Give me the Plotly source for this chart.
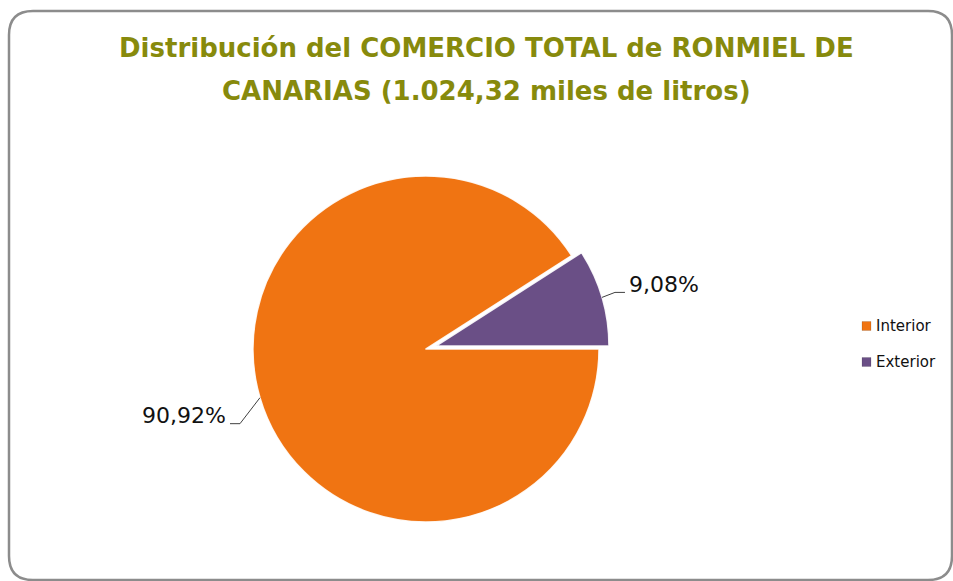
import math
import plotly.graph_objects as go

# Data
categories = ["Interior", "Exterior"]
shares = [90.92, 9.08]
share_labels = ["90,92%", "9,08%"]
title_lines = ["Distribución del COMERCIO TOTAL de RONMIEL DE",
               "CANARIAS (1.024,32 miles de litros)"]

colors = ["#F07412", "#6A4F86"]
pulls = [0.0, 0.06]

W, H = 953, 581


def px(x):
    return x / W


def py(y):
    return 1 - y / H


# Pie geometry in pixels
cx, cy, r = 426.0, 349.0, 173.0
max_pull = max(pulls)
rd = r * (1 + max_pull)

total = sum(shares)
# slices run clockwise starting from 3 o'clock
rotation = 90

fig = go.Figure()
fig.add_trace(go.Pie(
    labels=categories,
    values=shares,
    sort=False,
    direction="clockwise",
    rotation=rotation,
    pull=pulls,
    marker=dict(colors=colors, line=dict(color="rgba(255,255,255,0.9)", width=1.5)),
    textinfo="none",
    hoverinfo="label+percent",
    showlegend=False,
    domain=dict(x=[px(cx - rd), px(cx + rd)], y=[py(cy + rd), py(cy - rd)]),
))

shapes = []
annotations = []

# Leader lines and value labels, anchored at each slice's bisector
start_deg = 90 - rotation  # math angle where the first slice begins
acc = 0.0
elbows = [(-20, 26, -10), (13, -5, 10)]
for i, v in enumerate(shares):
    a0 = start_deg - 360 * acc / total
    acc += v
    a1 = start_deg - 360 * acc / total
    mid = math.radians((a0 + a1) / 2)
    off = pulls[i] * r
    ox = cx + off * math.cos(mid)
    oy = cy - off * math.sin(mid)
    ex = ox + r * math.cos(mid)
    ey = oy - r * math.sin(mid)
    dx, dy, hx = elbows[i]
    bx, by = ex + dx, ey + dy
    tx = bx + hx
    shapes.append(dict(
        type="path", xref="paper", yref="paper",
        path=f"M {px(ex)} {py(ey)} L {px(bx)} {py(by)} L {px(tx)} {py(by)}",
        line=dict(color="#404040", width=1),
    ))
    annotations.append(dict(
        x=px(tx + (2 if hx > 0 else -2)), y=py(by - 8), xref="paper", yref="paper",
        text=share_labels[i], showarrow=False,
        xanchor="left" if hx > 0 else "right", yanchor="middle",
        font=dict(family="DejaVu Sans", size=22, color="#111111"),
    ))

# Title, two centred lines
for line, yc in zip(title_lines, [48, 91]):
    annotations.append(dict(
        x=px(487), y=py(yc), xref="paper", yref="paper",
        text=line, showarrow=False, xanchor="center", yanchor="middle",
        font=dict(family="DejaVu Sans", size=26, color="#878A0C", weight=700),
    ))

# Legend
for i, (name, col) in enumerate(zip(categories, colors)):
    ly = 326 + 36 * i
    shapes.append(dict(
        type="rect", xref="paper", yref="paper",
        x0=px(862), x1=px(871), y0=py(ly + 4.5), y1=py(ly - 4.5),
        fillcolor=col, line=dict(color="rgba(0,0,0,0.25)", width=0.5),
    ))
    annotations.append(dict(
        x=px(874), y=py(ly), xref="paper", yref="paper",
        text=name, showarrow=False, xanchor="left", yanchor="middle",
        font=dict(family="DejaVu Sans", size=15, color="#111111"),
    ))

# Rounded chart frame
x0, y0, x1, y1, rc = 9, 11, 952, 580, 24
frame = (f"M {px(x0)} {py(y0 + rc)} Q {px(x0)} {py(y0)} {px(x0 + rc)} {py(y0)} "
         f"L {px(x1 - rc)} {py(y0)} Q {px(x1)} {py(y0)} {px(x1)} {py(y0 + rc)} "
         f"L {px(x1)} {py(y1 - rc)} Q {px(x1)} {py(y1)} {px(x1 - rc)} {py(y1)} "
         f"L {px(x0 + rc)} {py(y1)} Q {px(x0)} {py(y1)} {px(x0)} {py(y1 - rc)} Z")
shapes.append(dict(type="path", xref="paper", yref="paper", path=frame,
                   line=dict(color="#8C8C8C", width=2.5), layer="below"))

fig.update_layout(
    width=W, height=H,
    margin=dict(l=0, r=0, t=0, b=0),
    paper_bgcolor="white",
    plot_bgcolor="white",
    shapes=shapes,
    annotations=annotations,
)

fig.write_html("out.html")
